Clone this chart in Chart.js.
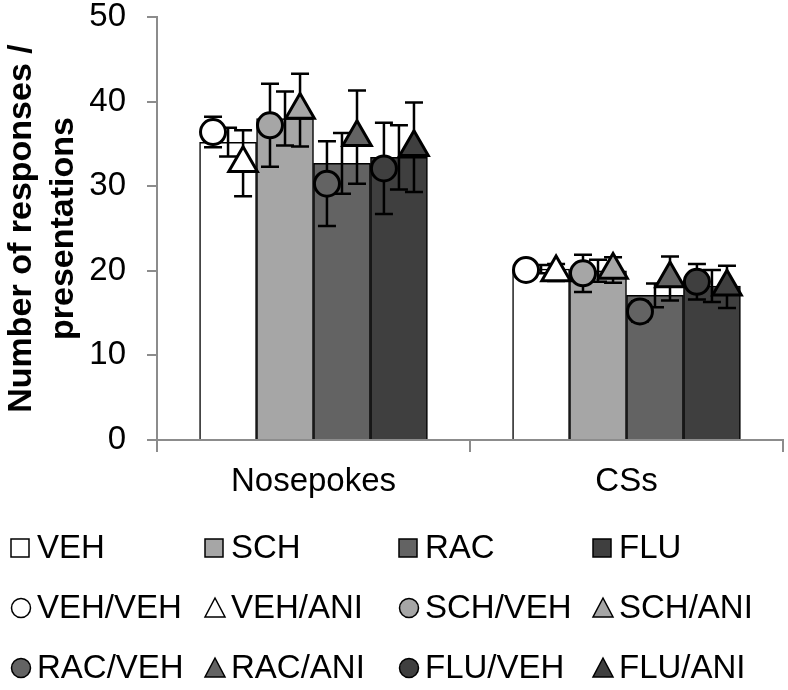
<!DOCTYPE html>
<html>
<head>
<meta charset="utf-8">
<script src="https://cdn.jsdelivr.net/npm/chart.js@4.4.0/dist/chart.umd.min.js"></script>
<style>
  html, body { margin: 0; padding: 0; background: #fff; }
</style>
</head>
<body>
<canvas id="grafico" width="788" height="690"></canvas>
<script>
// categorias e valores
var categorias = ['Nosepokes', 'CSs'];
var yTicks = [0, 10, 20, 30, 40, 50];

// barras (media do grupo) e erro
var vehBar = [35.2, 20.2];
var schBar = [38.0, 20.0];
var racBar = [32.7, 17.1];
var fluBar = [33.4, 18.2];
var vehBarErr = [1.7, 0.5];
var schBarErr = [3.2, 1.3];
var racBarErr = [3.6, 1.4];
var fluBarErr = [3.8, 1.9];

// marcadores (circulo = /VEH, triangulo = /ANI) e erro
var vehVeh = [36.4, 20.1];
var vehAni = [32.7, 19.8];
var schVeh = [37.2, 19.7];
var schAni = [39.0, 20.1];
var racVeh = [30.3, 15.2];
var racAni = [35.8, 19.1];
var fluVeh = [32.1, 18.7];
var fluAni = [34.6, 18.1];
var vehVehErr = [1.8, 0.6];
var vehAniErr = [3.9, 1.0];
var schVehErr = [4.9, 2.2];
var schAniErr = [4.3, 1.5];
var racVehErr = [5.0, 1.2];
var racAniErr = [5.5, 2.6];
var fluVehErr = [5.4, 2.1];
var fluAniErr = [5.3, 2.5];

var cores = ['#ffffff', '#a6a6a6', '#636363', '#3f3f3f'];
var fonte = "'Liberation Sans', Arial, sans-serif";

// largura de cada barra em unidades de categoria
var larguraBarra = 0.728 / 4;
var desvio = 0.048;

function barra(label, data, err, i) {
    return {
        type: 'bar',
        label: label,
        xAxisID: 'x2',
        data: data.map((v, c) => ({ x: c + (i - 1.5) * larguraBarra, y: v })),
        erros: err,
        grouped: false,
        barPercentage: 1,
        categoryPercentage: 1,
        backgroundColor: cores[i],
        borderColor: '#000',
        borderWidth: 1.5,
        borderSkipped: 'bottom',
        order: 2
    }
}

function marcador(label, data, err, i, estilo) {
    var lado = estilo == 'circle' ? -1 : 1;
    return {
        type: 'scatter',
        label: label,
        xAxisID: 'x2',
        data: data.map((v, c) => ({ x: c + (i - 1.5) * larguraBarra + lado * desvio, y: v })),
        erros: err,
        pointStyle: estilo,
        pointRadius: estilo == 'circle' ? 12.5 : 16.5,
        backgroundColor: cores[i],
        borderColor: '#000',
        borderWidth: 3,
        order: 1
    }
}

var datasets = [
    barra('VEH', vehBar, vehBarErr, 0),
    barra('SCH', schBar, schBarErr, 1),
    barra('RAC', racBar, racBarErr, 2),
    barra('FLU', fluBar, fluBarErr, 3),
    marcador('VEH/VEH', vehVeh, vehVehErr, 0, 'circle'),
    marcador('VEH/ANI', vehAni, vehAniErr, 0, 'triangle'),
    marcador('SCH/VEH', schVeh, schVehErr, 1, 'circle'),
    marcador('SCH/ANI', schAni, schAniErr, 1, 'triangle'),
    marcador('RAC/VEH', racVeh, racVehErr, 2, 'circle'),
    marcador('RAC/ANI', racAni, racAniErr, 2, 'triangle'),
    marcador('FLU/VEH', fluVeh, fluVehErr, 3, 'circle'),
    marcador('FLU/ANI', fluAni, fluAniErr, 3, 'triangle')
];

// barras de erro: desenhadas depois das barras e antes dos marcadores
var errorBars = {
    id: 'errorBars',
    beforeDatasetsDraw(chart) { chart._erroFeito = false },
    beforeDatasetDraw(chart, args) {
        if (chart._erroFeito || args.meta.type != 'scatter') return;
        chart._erroFeito = true;
        var ctx = chart.ctx, y = chart.scales.y;
        ctx.save();
        ctx.strokeStyle = '#000';
        ctx.lineWidth = 2.5;
        chart.data.datasets.forEach((ds, d) => {
            var meta = chart.getDatasetMeta(d);
            meta.data.forEach((el, i) => {
                var v = ds.data[i].y;
                var e = ds.erros[i];
                var top = y.getPixelForValue(v + e), bot = y.getPixelForValue(v - e);
                ctx.beginPath();
                ctx.moveTo(el.x, top); ctx.lineTo(el.x, bot);
                ctx.moveTo(el.x - 9, top); ctx.lineTo(el.x + 9, top);
                ctx.moveTo(el.x - 9, bot); ctx.lineTo(el.x + 9, bot);
                ctx.stroke();
            })
        })
        ctx.restore();
    }
}

// legenda em grade 4 colunas
var legendaGrade = {
    id: 'legendaGrade',
    afterDraw(chart) {
        var ctx = chart.ctx;
        var colunas = [11, 205, 399, 593];
        var linhas = [548, 608, 668];
        ctx.save();
        ctx.font = '33px ' + fonte;
        ctx.textBaseline = 'middle';
        chart.data.datasets.forEach((ds, k) => {
            var r = Math.floor(k / 4), c = k % 4;
            var x0 = colunas[c], yc = linhas[r];
            ctx.fillStyle = ds.backgroundColor;
            ctx.strokeStyle = '#000';
            ctx.lineWidth = 1.5;
            ctx.beginPath();
            if (ds.type == 'bar') {
                ctx.rect(x0, yc - 9, 18, 18);
            } else if (ds.pointStyle == 'circle') {
                ctx.arc(x0 + 10, yc, 9.5, 0, Math.PI * 2);
            } else {
                ctx.moveTo(x0 + 10, yc - 10);
                ctx.lineTo(x0 + 20, yc + 9);
                ctx.lineTo(x0, yc + 9);
                ctx.closePath();
            }
            ctx.fill();
            ctx.stroke();
            ctx.fillStyle = '#000';
            ctx.fillText(ds.label, x0 + 26, yc + 1);
        })
        ctx.restore();
    }
}

var cinza = '#8c8c8c';

new Chart(document.querySelector('#grafico'), {
    data: {
        labels: categorias,
        datasets
    },
    plugins: [errorBars, legendaGrade],
    options: {
        responsive: false,
        animation: false,
        layout: { autoPadding: false, padding: { top: 17, right: 5, bottom: 180, left: 0 } },
        plugins: { legend: { display: false }, tooltip: { enabled: false } },
        scales: {
            x: {
                type: 'category',
                offset: true,
                grid: { offset: true, drawOnChartArea: false, tickLength: 12, color: cinza, lineWidth: 2 },
                border: { color: cinza, width: 2 },
                ticks: { color: '#000', font: { family: fonte, size: 33 }, padding: 10 },
                afterFit(s) { s.height = 70; s.paddingLeft = 0; s.paddingRight = 0 }
            },
            x2: {
                type: 'linear',
                min: -0.5,
                max: 1.5,
                offset: false,
                ticks: { stepSize: 1 },
                display: false
            },
            y: {
                min: 0,
                max: 50,
                afterBuildTicks(s) { s.ticks = yTicks.map(v => ({ value: v })) },
                grid: { drawOnChartArea: false, tickLength: 10, color: cinza, lineWidth: 2 },
                border: { color: cinza, width: 2 },
                ticks: { color: '#000', font: { family: fonte, size: 33, lineHeight: 1 }, padding: 21 },
                title: {
                    display: true,
                    text: ['Number of responses /', 'presentations'],
                    color: '#000',
                    font: { family: fonte, size: 34, weight: 'bold', lineHeight: 1.25 },
                    padding: 0
                },
                afterFit(s) { s.width = 157; s.paddingTop = 0; s.paddingBottom = 0 }
            }
        }
    }
})
</script>
</body>
</html>
